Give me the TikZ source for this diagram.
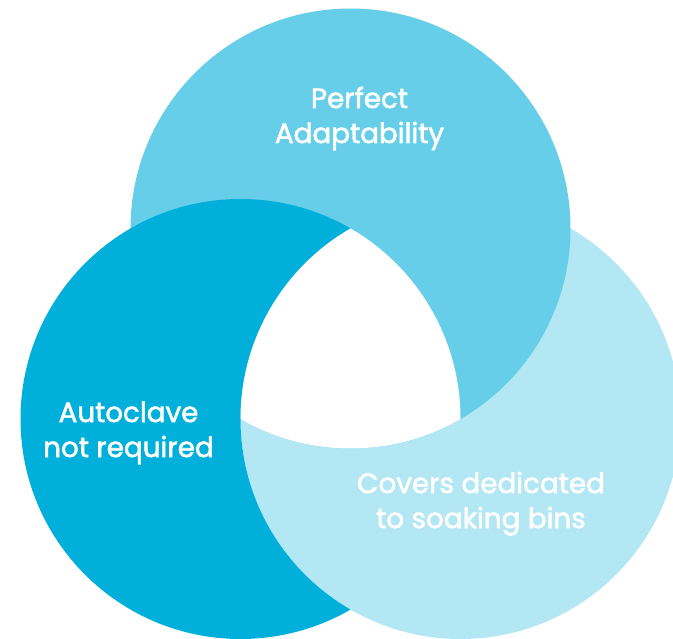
\documentclass[tikz,border=0pt]{standalone}
\usepackage{fontspec}
\setmainfont{Poppins}
\newfontfamily\lblfont{Poppins}[FakeBold=2]
\definecolor{cTop}{HTML}{66CEE8}
\definecolor{cLeft}{HTML}{00B0DB}
\definecolor{cRight}{HTML}{B2E7F3}
\begin{document}
\begin{tikzpicture}[x=1pt,y=-1pt,
  lbl/.style={text=white, align=center, inner sep=0pt, anchor=base,
    font=\lblfont\fontsize{27.8}{35}\selectfont}]
\useasboundingbox (0,0) rectangle (673,639);
\coordinate (T) at (350.5,228.5);
\coordinate (L) at (240.5,419);
\coordinate (R) at (460.5,419);
\def\rad{220}
% right circle, then top over it
\fill[cRight] (R) circle[radius=\rad];
\fill[cTop] (T) circle[radius=\rad];
% left circle over top but under right
\begin{scope}[even odd rule]
  \clip (-50,-50) rectangle (750,700) (R) circle[radius=\rad];
  \fill[cLeft] (L) circle[radius=\rad];
\end{scope}
% white centre
\begin{scope}
  \clip (T) circle[radius=\rad];
  \clip (L) circle[radius=\rad];
  \fill[white] (R) circle[radius=\rad];
\end{scope}
\node[lbl] (pa) at (359.5,143) {Perfect\\Adaptability};
\node[lbl] (ac) at (128.5,457) {Autoclave\\not required};
\node[lbl] (cd) at (481,528) {Covers dedicated\\to soaking bins};
\end{tikzpicture}
\end{document}
